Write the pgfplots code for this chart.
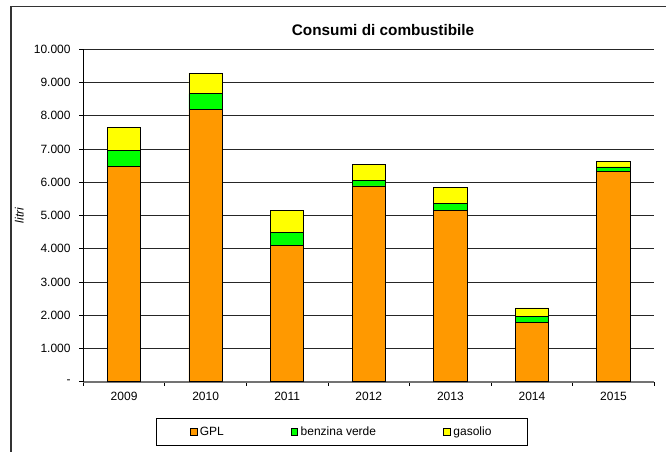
\documentclass[border=0pt]{standalone}
\usepackage{fontspec}
\setmainfont{Liberation Sans}
\usepackage{pgfplots}
\usetikzlibrary{calc}
\pgfplotsset{compat=1.18}
\definecolor{gpl}{HTML}{FF9900}
\definecolor{benz}{HTML}{00FF00}
\definecolor{gas}{HTML}{FFFF00}
\begin{document}
\begin{tikzpicture}[x=0.75pt,y=0.75pt]
\begin{axis}[
  name=ax, scale only axis,
  width=428.25pt, height=249.3pt,
  ybar stacked, bar width=25pt,
  xmin=-0.5, xmax=6.5, ymin=0, ymax=10000,
  enlargelimits=false,
  scaled y ticks=false,
  axis lines*=left,
  xtick={-0.5,0.5,...,6.5}, xticklabels={},
  extra x ticks={0,1,2,3,4,5,6},
  extra x tick labels={2009,2010,2011,2012,2013,2014,2015},
  extra x tick style={major tick length=0pt},
  ytick={0,1000,...,10000},
  yticklabels={-,1.000,2.000,3.000,4.000,5.000,6.000,7.000,8.000,9.000,10.000},
  tick align=outside, major tick length=3pt,
  tick style={black, line width=0.6pt},
  ymajorgrids, major grid style={black!85, line width=0.6pt},
  x axis line style={black!55, line width=1.3pt},
  y axis line style={black, line width=0.6pt},
  tick label style={font=\fontsize{9}{11}\selectfont},
  yticklabel style={xshift=-3pt},
  xticklabel style={yshift=-4pt},
  ylabel={\itshape litri},
  ylabel style={at={(axis description cs:-0.112,0.5)}, anchor=center, font=\fontsize{9}{11}\selectfont},
  title={Consumi di combustibile},
  every axis title/.style={at={(axis description cs:0.525,1.0566)}, anchor=center, font=\fontsize{11.5}{13}\selectfont\bfseries},
  legend columns=3,
  legend image code/.code={\draw[#1,draw=black,line width=0.4pt] (0pt,-2.6pt) rectangle (5.2pt,2.6pt);},
  legend style={at={(0.1273,-0.110)}, anchor=north west, draw=black, line width=0.6pt,
    inner xsep=25pt, inner ysep=4pt, font=\fontsize{9}{11}\selectfont,
    /tikz/every even column/.append style={column sep=0pt}},
  every axis plot/.append style={draw=black, line width=0.6pt},
]
\addplot[fill=gpl] coordinates {(0,6480) (1,8200) (2,4100) (3,5890) (4,5140) (5,1770) (6,6330)};
\addplot[fill=benz] coordinates {(0,490) (1,460) (2,400) (3,170) (4,210) (5,200) (6,130)};
\addplot[fill=gas] coordinates {(0,670) (1,620) (2,640) (3,480) (4,500) (5,250) (6,170)};
\legend{\makebox[66pt][l]{GPL},\makebox[105pt][l]{benzina verde},gasolio}
\coordinate (O) at (rel axis cs:0,0);
\end{axis}
\pgfresetboundingbox
\path[use as bounding box] ($(O)+(-83.3,-70.3)$) rectangle ++(666,452);
\draw[black!80,line width=1pt] ($(O)+(-72.3,375)$) rectangle ++(720,-500);
\end{tikzpicture}
\end{document}
